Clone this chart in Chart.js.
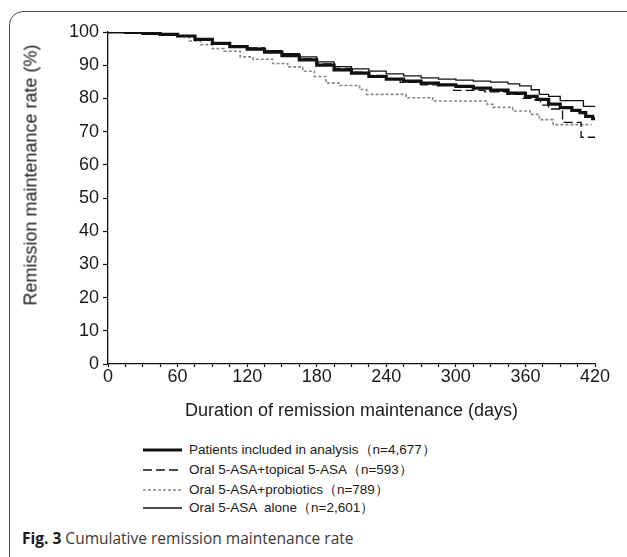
<!DOCTYPE html>
<html>
<head>
<meta charset="utf-8">
<script src="https://cdn.jsdelivr.net/npm/chart.js@4.4.1/dist/chart.umd.min.js"></script>
<style>
  html, body { margin: 0; padding: 0; background: #fff; width: 627px; height: 557px; overflow: hidden; }
  #frame { position: absolute; left: 9px; top: 11px; width: 700px; height: 600px; border: 1.5px solid #4a4a4a; border-radius: 14px; box-sizing: border-box; }
  #wrap { position: absolute; left: 0; top: 0; width: 627px; height: 430px; }
  #ytitle { position: absolute; left: 31px; top: 175px; transform: translate(-50%, -50%) rotate(-90deg); white-space: nowrap; font: 18px "Liberation Sans", Arial, sans-serif; color: #1a1a1a; }
  .leg { position: absolute; left: 143px; height: 20px; display: flex; align-items: center; font: 13.5px "Liberation Sans", Arial, sans-serif; color: #1a1a1a; white-space: pre; }
  .leg svg { margin-right: 7px; }
  #caption { position: absolute; left: 22px; top: 526px; font: 16.5px "Open Sans", sans-serif; color: #3a3a3a; white-space: nowrap; transform: scaleX(0.94); transform-origin: 0 50%; }
  #caption b { color: #1a1a1a; }
</style>
</head>
<body>
<div id="frame"></div>
<div id="wrap"><canvas id="c"></canvas></div>
<div id="ytitle"></div>
<div id="legend"></div>
<div id="caption"><b>Fig. 3</b> Cumulative remission maintenance rate</div>
<script>
// ---- data ----
const xTickLabels = [0, 60, 120, 180, 240, 300, 360, 420];
const yTickLabels = [0, 10, 20, 30, 40, 50, 60, 70, 80, 90, 100];
const xTitle = "Duration of remission maintenance (days)";
const yTitle = "Remission maintenance rate (%)";
const seriesNames = [
  "Patients included in analysis（n=4,677）",
  "Oral 5-ASA+topical 5-ASA（n=593）",
  "Oral 5-ASA+probiotics（n=789）",
  "Oral 5-ASA  alone（n=2,601）"
];

const allDays  = [0, 15, 30, 45, 60, 75, 90, 105, 120, 135, 150, 165, 180, 195, 210, 225, 240, 255, 270, 285, 300, 315, 330, 345, 360, 370, 380, 390, 400, 407, 412, 418, 420];
const allRate  = [100, 99.9, 99.6, 99.3, 98.8, 97.8, 96.6, 95.6, 94.8, 93.9, 92.9, 91.6, 90.0, 88.6, 87.6, 86.6, 85.8, 85.2, 84.6, 84.1, 83.6, 83.1, 82.5, 81.6, 80.6, 79.7, 78.3, 77.2, 76.4, 75.7, 74.6, 73.9, 73.7];

const topicalDays = [0, 15, 30, 45, 60, 75, 90, 105, 120, 135, 150, 165, 180, 195, 210, 225, 240, 252, 270, 298, 325, 344, 358, 368, 373, 380, 392, 408, 420];
const topicalRate = [100, 99.9, 99.6, 99.3, 98.8, 97.9, 96.7, 95.8, 95.2, 94.3, 93.0, 92.0, 90.4, 89.0, 87.9, 86.9, 85.8, 84.8, 84.1, 82.4, 82.0, 81.2, 80.0, 79.6, 78.0, 76.8, 72.8, 68.3, 68.3];

const probioDays = [0, 15, 30, 45, 60, 70, 80, 90, 100, 114, 125, 142, 155, 168, 178, 188, 200, 217, 223, 257, 280, 327, 332, 349, 364, 372, 384, 417];
const probioRate = [100, 99.9, 99.6, 99.2, 98.6, 97.3, 96.2, 95.0, 94.2, 92.5, 91.8, 90.5, 89.5, 88.2, 86.6, 84.6, 83.9, 82.7, 81.2, 80.2, 79.2, 78.2, 77.3, 76.2, 75.2, 73.6, 72.1, 72.1];

const aloneDays = [0, 15, 30, 45, 60, 75, 90, 105, 120, 135, 150, 165, 180, 195, 210, 225, 240, 255, 270, 285, 300, 315, 330, 345, 355, 365, 372, 380, 390, 410, 420];
const aloneRate = [100, 99.9, 99.6, 99.3, 98.9, 98.0, 96.8, 95.9, 95.1, 94.4, 93.5, 92.5, 91.0, 89.6, 88.9, 88.2, 87.4, 86.8, 86.2, 85.8, 85.5, 85.2, 84.9, 84.4, 83.8, 82.6, 81.2, 80.6, 79.3, 77.6, 77.3];

// ---- styles ----
const styles = [
  { color: '#111', width: 3.2, dash: [] },
  { color: '#111', width: 1.3, dash: [9, 4] },
  { color: '#888', width: 1.6, dash: [3, 2] },
  { color: '#111', width: 1.3, dash: [] }
];

const pts = (d, v) => d.map((x, i) => ({ x: x, y: v[i] }));
const seriesData = [pts(allDays, allRate), pts(topicalDays, topicalRate), pts(probioDays, probioRate), pts(aloneDays, aloneRate)];

const datasets = seriesData.map((data, i) => ({
  label: seriesNames[i],
  data: data,
  borderColor: styles[i].color,
  borderWidth: styles[i].width,
  borderDash: styles[i].dash,
  stepped: true,
  pointRadius: 0,
  fill: false,
  tension: 0
}));

const tickFont = { family: '"Liberation Sans", Arial, sans-serif', size: 18 };

new Chart(document.getElementById('c'), {
  type: 'line',
  data: { datasets: datasets },
  options: {
    responsive: true,
    maintainAspectRatio: false,
    animation: false,
    layout: { padding: { left: 0, top: 32, right: 32, bottom: 0 } },
    plugins: { legend: { display: false }, tooltip: { enabled: false } },
    scales: {
      x: {
        type: 'linear', min: 0, max: 420,
        afterFit: s => { s.height = 66; },
        afterBuildTicks: s => { const t = []; for (let v = 0; v <= 420; v += 15) t.push({ value: v }); s.ticks = t; },
        ticks: {
          autoSkip: false, maxRotation: 0, padding: -1, color: '#1a1a1a', font: tickFont,
          callback: v => (xTickLabels.includes(v) ? String(v) : '')
        },
        grid: { drawOnChartArea: false, tickLength: 3, color: '#111', tickWidth: 1.2 },
        border: { display: true, color: '#111', width: 1.3 },
        title: { display: true, text: xTitle, color: '#1a1a1a', font: { family: '"Liberation Sans", Arial, sans-serif', size: 18 }, padding: { top: 0, bottom: 8 } }
      },
      y: {
        min: 0, max: 100,
        afterFit: s => { s.width = 108; },
        afterBuildTicks: s => { s.ticks = yTickLabels.map(v => ({ value: v })); },
        ticks: { padding: 4, color: '#1a1a1a', font: tickFont },
        grid: { drawOnChartArea: false, tickLength: 5, color: '#111', tickWidth: 1.2 },
        border: { display: true, color: '#111', width: 1.3 }
      }
    }
  }
});

document.getElementById('ytitle').textContent = yTitle;

const legendY = [450, 470, 490, 508];
const legend = document.getElementById('legend');
seriesNames.forEach((name, i) => {
  const row = document.createElement('div');
  row.className = 'leg';
  row.style.top = (legendY[i] - 10) + 'px';
  const st = styles[i];
  row.innerHTML = '<svg width="39" height="8"><line x1="0" y1="4" x2="39" y2="4" stroke="' + st.color +
    '" stroke-width="' + st.width + '"' + (st.dash.length ? ' stroke-dasharray="' + st.dash.join(',') + '"' : '') + '/></svg>';
  const span = document.createElement('span');
  span.textContent = name;
  row.appendChild(span);
  legend.appendChild(row);
});
</script>
</body>
</html>
